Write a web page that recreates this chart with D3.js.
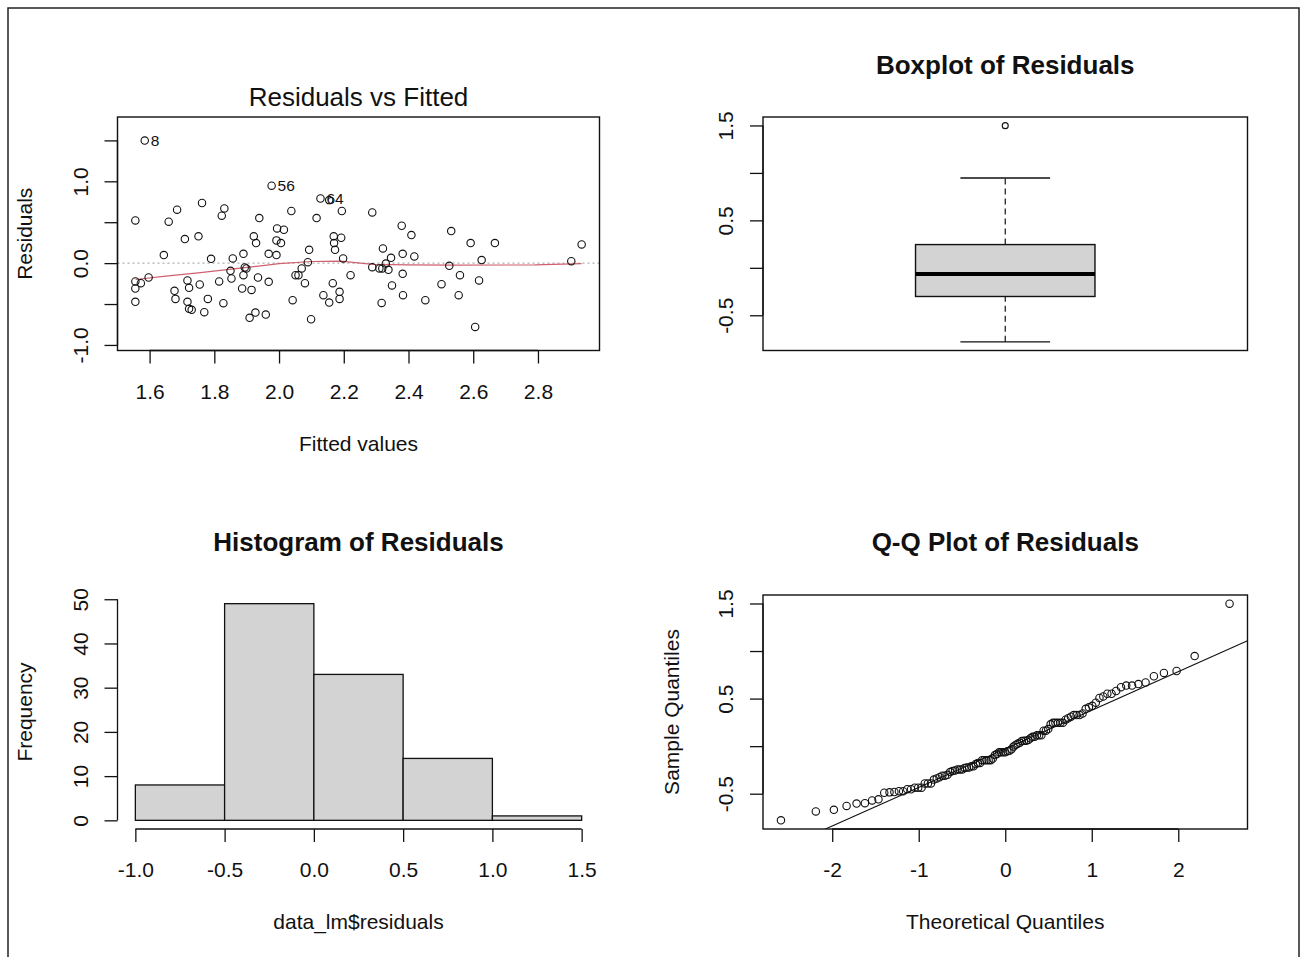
<!DOCTYPE html>
<html>
<head>
<meta charset="utf-8">
<style>
body { margin: 0; background: #fff; }
svg text { fill: #111; font-family: "Liberation Sans", Arial, sans-serif; }
</style>
</head>
<body>
<script src="https://d3js.org/d3.v7.min.js"></script>
<script>
// ---- data ----
// first three points carry the id labels drawn in the residual plot
var pointLabels = ["8", "56", "64"];

var fitted = [
  1.585, 1.977, 2.128, 2.155, 1.556, 1.659, 1.685, 1.762, 1.823, 1.831,
  1.709, 1.751, 1.644, 1.790, 1.857, 1.890, 1.922, 1.929, 1.939, 1.968,
  1.992, 1.994, 2.015, 1.992, 2.006, 2.038, 2.093, 2.116, 2.089, 2.169,
  2.192, 2.170, 2.173, 2.194, 2.198, 2.288, 2.321, 2.346, 2.379, 2.409,
  2.382, 2.418, 2.532, 2.592, 2.667, 2.626, 2.903, 2.935,
  1.556, 1.573, 1.556, 1.556, 1.597, 1.677, 1.680, 1.717, 1.722, 1.717,
  1.722, 1.730, 1.755, 1.769, 1.780, 1.815, 1.828, 1.850, 1.853, 1.886,
  1.890, 1.894, 1.899, 1.915, 1.909, 1.927, 1.935, 1.959, 1.968, 2.042,
  2.051, 2.060, 2.070, 2.080, 2.099, 2.137, 2.155, 2.166, 2.187, 2.187,
  2.221, 2.288, 2.310, 2.319, 2.338, 2.330, 2.317, 2.349, 2.382, 2.383,
  2.452, 2.502, 2.526, 2.559, 2.555, 2.618, 2.606
];

var residuals = [
  1.498, 0.947, 0.790, 0.770, 0.522, 0.506, 0.653, 0.735, 0.580, 0.669,
  0.294, 0.327, 0.098, 0.053, 0.057, 0.114, 0.327, 0.245, 0.551, 0.114,
  0.098, 0.424, 0.408, 0.278, 0.245, 0.637, 0.163, 0.551, 0.012, 0.327,
  0.310, 0.245, 0.163, 0.637, 0.057, 0.620, 0.180, 0.065, 0.457, 0.343,
  0.114, 0.082, 0.392, 0.245, 0.245, 0.037, 0.024, 0.229,
  -0.224, -0.245, -0.310, -0.473, -0.176, -0.339, -0.437, -0.212, -0.302, -0.473,
  -0.559, -0.571, -0.261, -0.600, -0.437, -0.224, -0.490, -0.094, -0.188, -0.310,
  -0.147, -0.053, -0.065, -0.327, -0.669, -0.604, -0.176, -0.629, -0.229, -0.453,
  -0.147, -0.147, -0.065, -0.245, -0.686, -0.392, -0.482, -0.245, -0.351, -0.437,
  -0.147, -0.049, -0.065, -0.065, -0.082, -0.005, -0.486, -0.273, -0.131, -0.392,
  -0.453, -0.257, -0.033, -0.147, -0.392, -0.212, -0.780
];

// red smoother in the residual plot
var smoothX = [1.557, 1.65, 1.75, 1.86, 1.95, 2.00, 2.10, 2.19, 2.29, 2.40, 2.53, 2.79, 2.935];
var smoothY = [-0.20, -0.16, -0.12, -0.07, -0.03, -0.005, 0.02, 0.025, -0.015, -0.022, -0.025, -0.022, -0.005];

var histBreaks = [-1.0, -0.5, 0.0, 0.5, 1.0, 1.5];
var histCounts = [8, 49, 33, 14, 1];

// ticks
var fittedTicks = [1.6, 1.8, 2.0, 2.2, 2.4, 2.6, 2.8];
var residTicks = [-1.0, -0.5, 0.0, 0.5, 1.0, 1.5];
var residTickLabels = ["-1.0", "", "0.0", "", "1.0", ""];
var boxTicks = [-0.5, 0.0, 0.5, 1.0, 1.5];
var boxTickLabels = ["-0.5", "", "0.5", "", "1.5"];
var histXTicks = [-1.0, -0.5, 0.0, 0.5, 1.0, 1.5];
var histXTickLabels = ["-1.0", "-0.5", "0.0", "0.5", "1.0", "1.5"];
var freqTicks = [0, 10, 20, 30, 40, 50];
var qqTicks = [-2, -1, 0, 1, 2];

// ---- layout ----
var width = 1303, height = 957;
var colL = [117.5, 599.5], colR = [763, 1247.5];
var rowA = [117, 350.5], rowB = [595, 829];
var ink = "#111";

var svg = d3.select("body").append("svg")
    .attr("width", width)
    .attr("height", height);

svg.append("rect")
    .attr("x", 8).attr("y", 8)
    .attr("width", 1291).attr("height", 990)
    .attr("fill", "none").attr("stroke", "#222").attr("stroke-width", 1.5);

function ext(lo, hi, f) {
  var d = (hi - lo) * f;
  return [lo - d, hi + d];
}

function frame(cx, cy) {
  svg.append("rect")
      .attr("x", cx[0]).attr("y", cy[0])
      .attr("width", cx[1] - cx[0]).attr("height", cy[1] - cy[0])
      .attr("fill", "none").attr("stroke", ink).attr("stroke-width", 1.4);
}

function xAxis(scale, y, ticks, labels) {
  var g = svg.append("g")
      .attr("transform", "translate(0," + y + ")")
      .call(d3.axisBottom(scale).tickValues(ticks).tickSize(13).tickPadding(20.5)
        .tickFormat(function(d, i) { return labels[i]; }));
  g.select(".domain").remove();
  g.attr("color", ink);
  g.selectAll("line").attr("stroke-width", 1.3);
  g.selectAll("text").attr("font-size", 21);
  g.append("line")
      .attr("x1", scale(ticks[0])).attr("x2", scale(ticks[ticks.length - 1]))
      .attr("stroke", ink).attr("stroke-width", 1.3);
}

function yAxis(scale, x, ticks, labels) {
  var g = svg.append("g")
      .attr("transform", "translate(" + x + ",0)")
      .call(d3.axisLeft(scale).tickValues(ticks).tickSize(13)
        .tickFormat(function(d, i) { return labels[i]; }));
  g.select(".domain").remove();
  g.attr("color", ink);
  g.selectAll("line").attr("stroke-width", 1.3);
  g.selectAll("text")
      .attr("font-size", 21)
      .attr("transform", "rotate(-90)")
      .attr("x", 0).attr("y", -37)
      .attr("dy", "0.35em")
      .attr("text-anchor", "middle");
  g.append("line")
      .attr("y1", scale(ticks[0])).attr("y2", scale(ticks[ticks.length - 1]))
      .attr("stroke", ink).attr("stroke-width", 1.3);
}

function title(text, x, y, bold) {
  svg.append("text")
      .attr("x", x).attr("y", y)
      .attr("text-anchor", "middle")
      .attr("font-size", 26)
      .attr("font-weight", bold ? "bold" : "normal")
      .text(text);
}

function xLabel(text, x, y) {
  svg.append("text")
      .attr("x", x).attr("y", y)
      .attr("text-anchor", "middle")
      .attr("font-size", 21)
      .text(text);
}

function yLabel(text, x, y) {
  svg.append("text")
      .attr("transform", "translate(" + x + "," + y + ") rotate(-90)")
      .attr("text-anchor", "middle")
      .attr("dy", "0.35em")
      .attr("font-size", 21)
      .text(text);
}

var mid = function(a) { return (a[0] + a[1]) / 2; };

// ---- 1. residuals vs fitted ----
(function() {
  var x = d3.scaleLinear().domain(ext(d3.min(fitted), d3.max(fitted), 0.04)).range(colL);
  var yr = ext(d3.min(residuals), d3.max(residuals), 0.08);
  var y = d3.scaleLinear().domain(ext(yr[0], yr[1], 0.04)).range([rowA[1], rowA[0]]);

  svg.append("line")
      .attr("x1", colL[0]).attr("x2", colL[1])
      .attr("y1", y(0)).attr("y2", y(0))
      .attr("stroke", "#999").attr("stroke-width", 1).attr("stroke-dasharray", "2,3");

  svg.append("path")
      .datum(d3.zip(smoothX, smoothY))
      .attr("fill", "none").attr("stroke", "#d0606f").attr("stroke-width", 1.2)
      .attr("d", d3.line().x(function(d) { return x(d[0]); }).y(function(d) { return y(d[1]); }));

  svg.append("g").selectAll("circle")
      .data(d3.zip(fitted, residuals))
      .join("circle")
      .attr("cx", function(d) { return x(d[0]); })
      .attr("cy", function(d) { return y(d[1]); })
      .attr("r", 3.7)
      .attr("fill", "none").attr("stroke", ink).attr("stroke-width", 1.1);

  pointLabels.forEach(function(t, i) {
    svg.append("text")
        .attr("x", x(fitted[i]) + 6).attr("y", y(residuals[i]))
        .attr("dy", "0.35em").attr("font-size", 15.5)
        .text(t);
  });

  frame(colL, rowA);
  xAxis(x, rowA[1], fittedTicks, fittedTicks.map(function(d) { return d.toFixed(1); }));
  yAxis(y, colL[0], residTicks, residTickLabels);
  title("Residuals vs Fitted", mid(colL), 106, false);
  xLabel("Fitted values", mid(colL), 451);
  yLabel("Residuals", 25, mid(rowA));
})();

// ---- 2. boxplot ----
(function() {
  var s = residuals.slice().sort(d3.ascending), n = s.length;
  var n4 = Math.floor((n + 3) / 2) / 2;
  var hinge = function(p) { return 0.5 * (s[Math.floor(p) - 1] + s[Math.ceil(p) - 1]); };
  var q1 = hinge(n4), med = hinge((n + 1) / 2), q3 = hinge(n + 1 - n4);
  var iqr = q3 - q1;
  var inside = s.filter(function(v) { return v >= q1 - 1.5 * iqr && v <= q3 + 1.5 * iqr; });
  var lo = d3.min(inside), hi = d3.max(inside);
  var outliers = s.filter(function(v) { return v < lo || v > hi; });

  var x = d3.scaleLinear().domain(ext(0.5, 1.5, 0.04)).range(colR);
  var y = d3.scaleLinear().domain(ext(s[0], s[n - 1], 0.04)).range([rowA[1], rowA[0]]);
  var cx = x(1), hw = x(1.2) - x(1), sw = x(1.1) - x(1);

  [[lo, q1], [q3, hi]].forEach(function(w) {
    svg.append("line")
        .attr("x1", cx).attr("x2", cx).attr("y1", y(w[0])).attr("y2", y(w[1]))
        .attr("stroke", ink).attr("stroke-width", 1.2).attr("stroke-dasharray", "6,4");
  });
  [lo, hi].forEach(function(v) {
    svg.append("line")
        .attr("x1", cx - sw).attr("x2", cx + sw).attr("y1", y(v)).attr("y2", y(v))
        .attr("stroke", ink).attr("stroke-width", 1.4);
  });
  svg.append("rect")
      .attr("x", cx - hw).attr("y", y(q3))
      .attr("width", 2 * hw).attr("height", y(q1) - y(q3))
      .attr("fill", "#d3d3d3").attr("stroke", ink).attr("stroke-width", 1.4);
  svg.append("line")
      .attr("x1", cx - hw).attr("x2", cx + hw).attr("y1", y(med)).attr("y2", y(med))
      .attr("stroke", "#000").attr("stroke-width", 4);
  svg.append("g").selectAll("circle")
      .data(outliers)
      .join("circle")
      .attr("cx", cx).attr("cy", function(d) { return y(d); })
      .attr("r", 3)
      .attr("fill", "none").attr("stroke", ink).attr("stroke-width", 1.1);

  frame(colR, rowA);
  yAxis(y, colR[0], boxTicks, boxTickLabels);
  title("Boxplot of Residuals", mid(colR), 74, true);
})();

// ---- 3. histogram ----
(function() {
  var x = d3.scaleLinear().domain(ext(histBreaks[0], histBreaks[histBreaks.length - 1], 0.04)).range(colL);
  var y = d3.scaleLinear().domain(ext(0, d3.max(histCounts), 0.04)).range([rowB[1], rowB[0]]);

  svg.append("g").selectAll("rect")
      .data(histCounts)
      .join("rect")
      .attr("x", function(d, i) { return x(histBreaks[i]); })
      .attr("y", function(d) { return y(d); })
      .attr("width", function(d, i) { return x(histBreaks[i + 1]) - x(histBreaks[i]); })
      .attr("height", function(d) { return y(0) - y(d); })
      .attr("fill", "#d3d3d3").attr("stroke", ink).attr("stroke-width", 1.3);

  xAxis(x, rowB[1], histXTicks, histXTickLabels);
  yAxis(y, colL[0], freqTicks, freqTicks.map(String));
  title("Histogram of Residuals", mid(colL), 551, true);
  xLabel("data_lm$residuals", mid(colL), 929);
  yLabel("Frequency", 25, mid(rowB));
})();

// ---- 4. normal Q-Q ----
function qnorm(p) {
  var a = [-39.69683028665376, 220.9460984245205, -275.9285104469687, 138.3577518672690, -30.66479806614716, 2.506628277459239];
  var b = [-54.47609879822406, 161.5858368580409, -155.6989798598866, 66.80131188771972, -13.28068155288572];
  var c = [-0.007784894002430293, -0.3223964580411365, -2.400758277161838, -2.549732539343734, 4.374664141464968, 2.938163982698783];
  var d = [0.007784695709041462, 0.3224671290700398, 2.445134137142996, 3.754408661907416];
  var q, r;
  if (p < 0.02425 || p > 0.97575) {
    q = Math.sqrt(-2 * Math.log(p < 0.5 ? p : 1 - p));
    var v = (((((c[0] * q + c[1]) * q + c[2]) * q + c[3]) * q + c[4]) * q + c[5]) /
            ((((d[0] * q + d[1]) * q + d[2]) * q + d[3]) * q + 1);
    return p < 0.5 ? v : -v;
  }
  q = p - 0.5; r = q * q;
  return (((((a[0] * r + a[1]) * r + a[2]) * r + a[3]) * r + a[4]) * r + a[5]) * q /
         (((((b[0] * r + b[1]) * r + b[2]) * r + b[3]) * r + b[4]) * r + 1);
}

(function() {
  var s = residuals.slice().sort(d3.ascending), n = s.length;
  var theo = s.map(function(v, i) { return qnorm((i + 0.5) / n); });
  var pts = d3.zip(theo, s);

  var x = d3.scaleLinear().domain(ext(theo[0], theo[n - 1], 0.04)).range(colR);
  var y = d3.scaleLinear().domain(ext(s[0], s[n - 1], 0.04)).range([rowB[1], rowB[0]]);

  // line through the quartiles
  var q1 = d3.quantile(s, 0.25), q3 = d3.quantile(s, 0.75);
  var slope = (q3 - q1) / (qnorm(0.75) - qnorm(0.25));
  var icpt = q1 - slope * qnorm(0.25);
  var xd = x.domain();

  svg.append("clipPath").attr("id", "qqclip")
    .append("rect")
      .attr("x", colR[0]).attr("y", rowB[0])
      .attr("width", colR[1] - colR[0]).attr("height", rowB[1] - rowB[0]);

  svg.append("line")
      .attr("clip-path", "url(#qqclip)")
      .attr("x1", x(xd[0])).attr("y1", y(icpt + slope * xd[0]))
      .attr("x2", x(xd[1])).attr("y2", y(icpt + slope * xd[1]))
      .attr("stroke", ink).attr("stroke-width", 1.1);

  svg.append("g").selectAll("circle")
      .data(pts)
      .join("circle")
      .attr("cx", function(d) { return x(d[0]); })
      .attr("cy", function(d) { return y(d[1]); })
      .attr("r", 3.7)
      .attr("fill", "none").attr("stroke", ink).attr("stroke-width", 1.1);

  frame(colR, rowB);
  xAxis(x, rowB[1], qqTicks, qqTicks.map(String));
  yAxis(y, colR[0], boxTicks, boxTickLabels);
  title("Q-Q Plot of Residuals", mid(colR), 551, true);
  xLabel("Theoretical Quantiles", mid(colR), 929);
  yLabel("Sample Quantiles", 672, mid(rowB));
})();
</script>
</body>
</html>
